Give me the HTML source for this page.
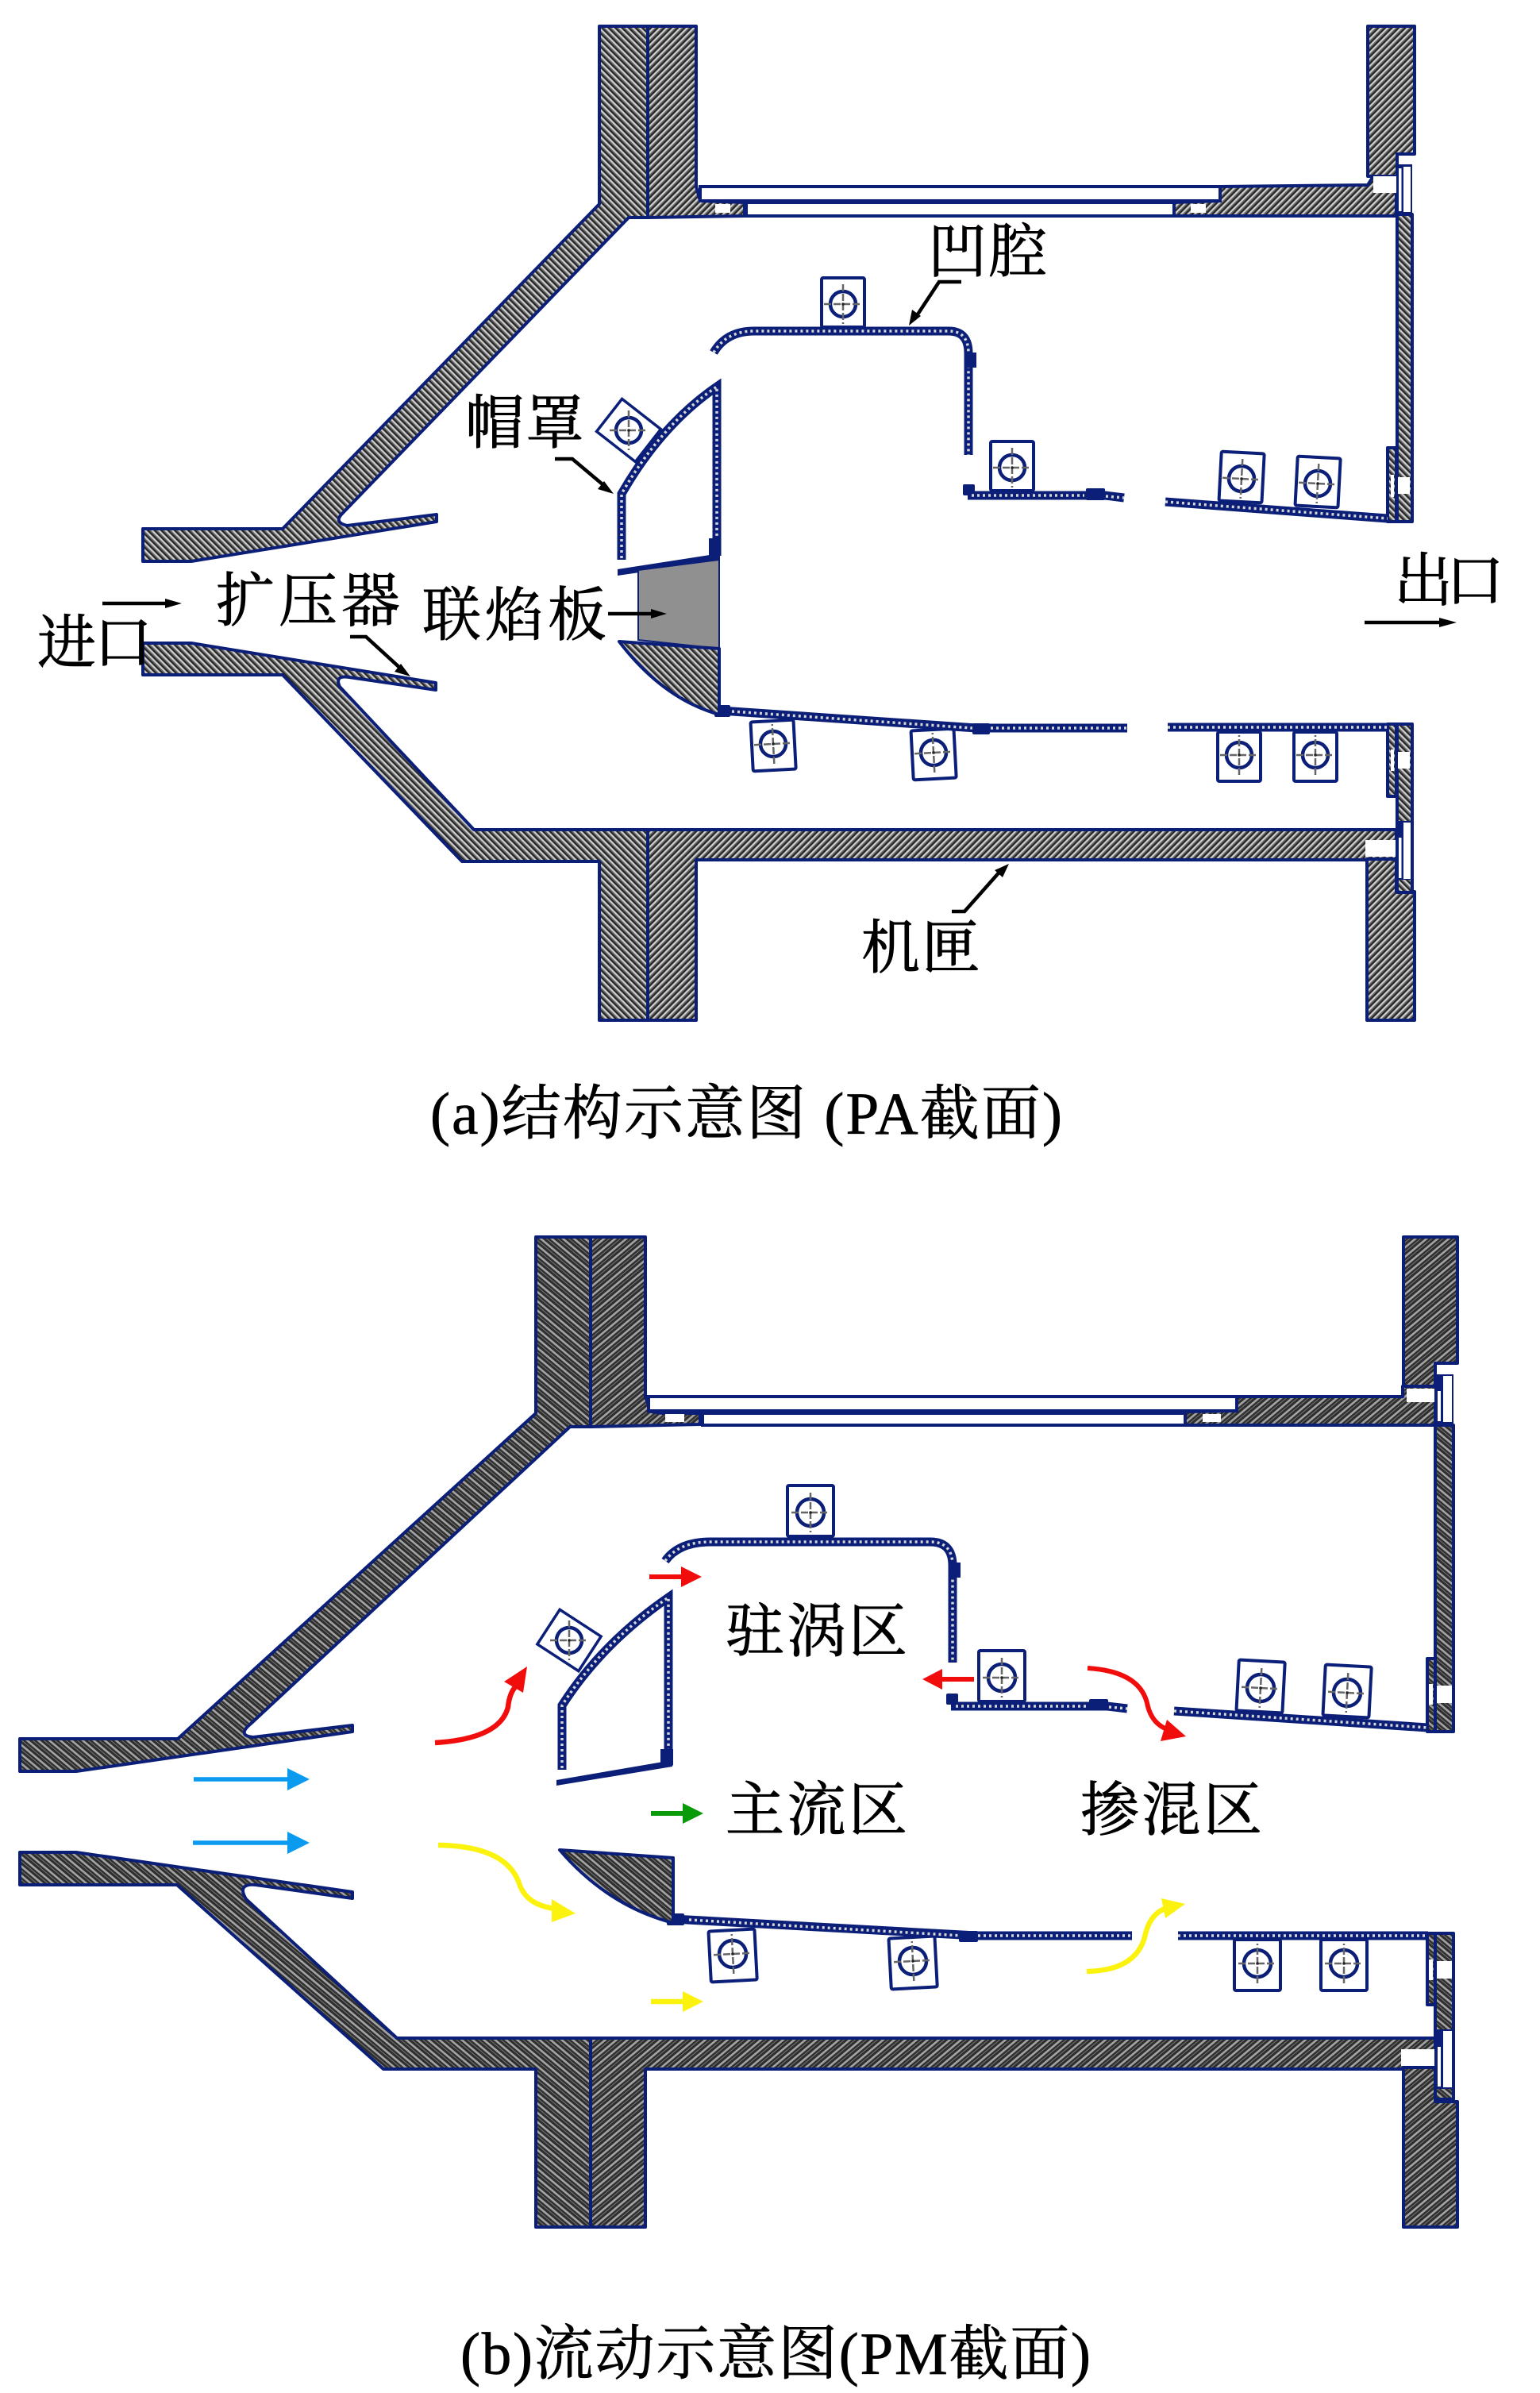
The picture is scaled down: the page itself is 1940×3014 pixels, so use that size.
<!DOCTYPE html>
<html><head><meta charset="utf-8">
<style>
html,body{margin:0;padding:0;background:#fff}
svg{display:block}
.l{fill:#000;stroke:#000;stroke-width:.9;font-family:"Noto Serif CJK SC","Liberation Serif",serif;font-size:74px}
.c{fill:#000;stroke:#000;stroke-width:.7;font-family:"Liberation Serif","Noto Serif CJK SC",serif;font-size:75px}
.s{stroke:#0b1f78;stroke-width:4;stroke-linejoin:round}
.wb{fill:#fff;stroke:#0b1f78;stroke-width:4}
.nv{fill:#0b1f78}
.wt{fill:#fff}
.li{fill:none;stroke:#0b1f78;stroke-width:11}
.ld{fill:none;stroke:#d5d5d5;stroke-width:3.5;stroke-dasharray:3 4}
.ar{fill:none;stroke:#000;stroke-width:4.5}
</style></head><body>
<svg width="1940" height="3014" viewBox="0 0 1940 3014" xmlns="http://www.w3.org/2000/svg">
<defs>
<pattern id="h1" width="6" height="6" patternUnits="userSpaceOnUse" patternTransform="rotate(45)"><rect width="6" height="6" fill="#666"/><rect width="6" height="2" fill="#d0d0d0"/><rect y="3.8" width="6" height="1.6" fill="#1c1c1c"/></pattern>
<pattern id="h2" width="6" height="6" patternUnits="userSpaceOnUse" patternTransform="rotate(-45)"><rect width="6" height="6" fill="#666"/><rect width="6" height="2" fill="#d0d0d0"/><rect y="3.8" width="6" height="1.6" fill="#1c1c1c"/></pattern>
<pattern id="d1" width="9" height="9" patternUnits="userSpaceOnUse" patternTransform="rotate(40)"><rect width="9" height="9" fill="#2e2e2e"/><rect width="9" height="2.6" fill="#a4a4a4"/><rect y="5" width="9" height="1" fill="#777"/></pattern>
<pattern id="d2" width="9" height="9" patternUnits="userSpaceOnUse" patternTransform="rotate(-40)"><rect width="9" height="9" fill="#2e2e2e"/><rect width="9" height="2.6" fill="#a4a4a4"/><rect y="5" width="9" height="1" fill="#777"/></pattern>
<g id="x">
<path d="M-24,0H24M0,-25V25" stroke="#666" stroke-width="2.5" stroke-dasharray="9 3"/>
<circle r="1.8" fill="#222"/>
</g>
<g id="b">
<rect x="-27" y="-33" width="54" height="62" rx="2" fill="#fff" stroke="#0b1f78" stroke-width="4"/>
<circle r="16" fill="#fff" stroke="#0b1f78" stroke-width="4.5"/>
<use href="#x"/>
</g>
<g id="b3">
<rect x="-29" y="-34" width="58" height="64" rx="2" fill="#fff" stroke="#0b1f78" stroke-width="4"/>
<circle r="17" fill="#fff" stroke="#0b1f78" stroke-width="4.5"/>
<use href="#x"/>
</g>
<g id="b2">
<rect x="-31" y="-26" width="62" height="52" fill="#fff" stroke="#0b1f78" stroke-width="3.5"/>
<circle r="16" fill="#fff" stroke="#0b1f78" stroke-width="4.5"/>
</g>
</defs>

<!-- (a) shell -->
<g class="s">
<path fill="url(#h1)" d="M180,666 L356,666 L755,257 L755,33 L816,33 L816,274 L792,274 L430,648 Q421,658 437,662 L550,648 L550,657 L241,707 L180,707Z"/>
<polygon fill="url(#h2)" points="816,33 877,33 877,235 882,253 938,255 938,272 816,274"/>
<path fill="url(#h1)" d="M180,810 L241,810 L549,860 L549,869 L440,853 Q421,850 428,865 L597,1045 L816,1045 L816,1285 L755,1285 L755,1085 L582,1085 L356,850 L180,850Z"/>
<polygon fill="url(#h2)" points="816,1045 1759,1045 1759,1083 877,1083 877,1285 816,1285"/>
<polygon fill="url(#h2)" points="1479,255 1537,253 1537,235 1723,233 1730,222 1759,222 1759,272 1479,272"/>
<polygon fill="url(#h2)" points="1723,33 1782,33 1782,194 1760,194 1760,222 1723,222"/>
<polygon fill="url(#h2)" points="1722,1082 1759,1082 1759,1123 1782,1123 1782,1285 1722,1285"/>
<rect x="1760" y="270" width="19" height="387" fill="url(#h1)"/>
<rect x="1760" y="912" width="19" height="212" fill="url(#h1)"/>
<rect x="1748" y="564" width="11" height="93" fill="url(#h1)"/>
<rect x="1748" y="912" width="11" height="91" fill="url(#h1)"/>
</g>
<rect class="wb" x="882" y="235" width="655" height="18"/>
<rect class="wb" x="940" y="255" width="539" height="17"/>
<rect x="901" y="257" width="19" height="11" class="wt"/>
<rect x="1500" y="257" width="19" height="11" class="wt"/>
<!-- top right hardware a -->
<rect x="1730" y="222" width="30" height="21" class="wt"/>
<rect x="1759" y="207" width="20" height="62" class="nv"/>
<rect x="1762" y="212" width="3.5" height="54" class="wt"/>
<rect x="1768" y="210" width="9" height="57" class="wt"/>
<!-- bottom right hardware a -->
<rect x="1720" y="1058" width="38" height="21" class="wt"/>
<rect x="1759" y="1034" width="20" height="74" class="nv"/>
<rect x="1762" y="1055" width="3.5" height="51" class="wt"/>
<rect x="1768" y="1036" width="9" height="71" class="wt"/>
<rect x="1752" y="598" width="4" height="28" class="wt"/>
<rect x="1761" y="601" width="15" height="21" class="wt"/>
<rect x="1752" y="944" width="4" height="27" class="wt"/>
<rect x="1761" y="947" width="15" height="21" class="wt"/>

<!-- (a) brackets -->
<use href="#b" x="1062" y="383"/>
<use href="#b2" transform="translate(792,542) rotate(38)"/>
<use href="#x" x="792" y="542"/>
<use href="#b" x="1275" y="589"/>
<use href="#b" transform="translate(1564,603) rotate(3)"/>
<use href="#b" transform="translate(1660,609) rotate(3)"/>
<use href="#b" transform="translate(974,937) rotate(-3) scale(1,-1)"/>
<use href="#b" transform="translate(1176,948) rotate(-3) scale(1,-1)"/>
<use href="#b" transform="translate(1561,951) scale(1,-1)"/>
<use href="#b" transform="translate(1657,951) scale(1,-1)"/>

<!-- (a) liner -->
<path class="li" d="M899,444 Q915,417 950,417 H1195 Q1220,417 1220,445 V573"/>
<path class="ld" d="M899,444 Q915,417 950,417 H1195 Q1220,417 1220,445 V573"/>
<rect x="1217" y="444" width="13" height="19" class="nv"/>
<rect x="1213" y="610" width="15" height="14" rx="2" class="nv"/>
<path class="li" d="M1219,624 H1392 L1416,627"/>
<path class="ld" d="M1224,624 H1366"/><path class="ld" d="M1393,625 L1416,627"/>
<rect x="1368" y="615" width="24" height="15" rx="2" class="nv"/>
<path class="li" d="M1468,632 L1748,653"/><path class="ld" d="M1468,632 L1748,653"/>
<path class="li" d="M908,895 L1230,917 H1420"/><path class="ld" d="M922,896 L1225,917"/><path class="ld" d="M1248,917 H1420"/>
<rect x="1225" y="911" width="22" height="14" rx="2" class="nv"/>
<rect x="900" y="888" width="20" height="15" rx="2" class="nv"/>
<path class="li" d="M1471,916 H1748"/><path class="ld" d="M1471,916 H1748"/>
<path class="li" d="M783,705 L783,622 Q833,535 903,487 V700"/>
<path class="ld" d="M783,703 L783,622 Q833,535 903,487 V680"/>
<polygon points="778,717 907,697 907,706 778,725" class="nv"/>
<rect x="893" y="678" width="15" height="22" class="nv"/>
<polygon points="804,718 906,705 906,817 804,806" fill="#909090" stroke="#0b1f78" stroke-width="2"/>
<path d="M780,808 L906,817 V900 Q835,880 780,808Z" fill="url(#h1)" class="s"/>

<!-- (a) labels -->
<text class="l" x="1169" y="342" textLength="150" lengthAdjust="spacing">凹腔</text>
<text class="l" x="586" y="558" textLength="150" lengthAdjust="spacing">帽罩</text>
<text class="l" x="272" y="782" textLength="232" lengthAdjust="spacing">扩压器</text>
<text class="l" x="532" y="800" textLength="232" lengthAdjust="spacing">联焰板</text>
<text class="l" x="47" y="835" textLength="145" lengthAdjust="spacing">进口</text>
<text class="l" x="1756" y="757" textLength="139" lengthAdjust="spacing">出口</text>
<text class="l" x="1085" y="1219" textLength="150" lengthAdjust="spacing">机匣</text>
<text class="c" x="542" y="1428" textLength="796" lengthAdjust="spacing">(a)结构示意图 (PA截面)</text>

<!-- (a) arrows -->
<path class="ar" d="M129,760H215"/><polygon points="229,760 208,754 208,766"/>
<path class="ar" d="M699,578H721L765,615"/><polygon points="773,622 753,616 761,606"/>
<path class="ar" d="M441,802H461L508,845"/><polygon points="517,852 497,846 505,836"/>
<path class="ar" d="M766,773H828"/><polygon points="840,773 820,767 820,779"/>
<path class="ar" d="M1719,784H1822"/><polygon points="1835,784 1813,778 1813,790"/>
<path class="ar" d="M1211,355H1183L1152,402"/><polygon points="1145,410 1149,390 1160,398"/>
<path class="ar" d="M1199,1148H1215L1262,1095"/><polygon points="1271,1088 1253,1096 1263,1105"/>

<!-- (b) shell -->
<g class="s">
<path fill="url(#d1)" d="M25,2190 L224,2190 L675,1780 L675,1558 L744,1558 L744,1797 L718,1797 L316,2171 Q298,2186 319,2188 L444,2173 L444,2181 L96,2231 L25,2231Z"/>
<polygon fill="url(#d2)" points="744,1558 813,1558 813,1759 820,1778 835,1780 882,1780 882,1794 744,1797"/>
<path fill="url(#d1)" d="M25,2333 L96,2333 L444,2383 L444,2391 L322,2374 Q298,2372 310,2392 L500,2567 L744,2567 L744,2805 L675,2805 L675,2606 L483,2606 L223,2374 L25,2374Z"/>
<polygon fill="url(#d2)" points="744,2567 1808,2567 1808,2606 813,2606 813,2805 744,2805"/>
<polygon fill="url(#d2)" points="1493,1778 1558,1777 1558,1759 1767,1759 1767,1746 1808,1746 1808,1795 1493,1795"/>
<polygon fill="url(#d2)" points="1768,1558 1836,1558 1836,1717 1808,1717 1808,1746 1768,1746"/>
<polygon fill="url(#d2)" points="1768,2604 1808,2604 1808,2647 1836,2647 1836,2805 1768,2805"/>
<rect x="1808" y="1795" width="23" height="386" fill="url(#d1)"/>
<rect x="1808" y="2435" width="23" height="209" fill="url(#d1)"/>
<rect x="1798" y="2089" width="10" height="92" fill="url(#d1)"/>
<rect x="1798" y="2435" width="10" height="90" fill="url(#d1)"/>
</g>
<rect class="wb" x="817" y="1759" width="741" height="18"/>
<rect class="wb" x="885" y="1780" width="608" height="15"/>
<rect x="838" y="1781" width="24" height="10" class="wt"/>
<rect x="1515" y="1781" width="23" height="10" class="wt"/>
<rect x="1772" y="1749" width="35" height="17" class="wt"/>
<rect x="1808" y="1731" width="23" height="62" class="nv"/>
<rect x="1811" y="1752" width="4" height="38" class="wt"/>
<rect x="1818" y="1733" width="11" height="58" class="wt"/>
<rect x="1765" y="2581" width="42" height="21" class="wt"/>
<rect x="1808" y="2556" width="23" height="75" class="nv"/>
<rect x="1811" y="2578" width="4" height="50" class="wt"/>
<rect x="1818" y="2558" width="11" height="71" class="wt"/>
<rect x="1800" y="2121" width="5" height="26" class="wt"/>
<rect x="1810" y="2123" width="19" height="22" class="wt"/>
<rect x="1800" y="2468" width="5" height="26" class="wt"/>
<rect x="1810" y="2470" width="19" height="22" class="wt"/>

<!-- (b) brackets -->
<use href="#b3" x="1021" y="1905"/>
<use href="#b2" transform="translate(717,2066) rotate(33)"/>
<use href="#x" x="717" y="2066"/>
<use href="#b3" x="1262" y="2113"/>
<use href="#b3" transform="translate(1588,2126) rotate(3)"/>
<use href="#b3" transform="translate(1697,2132) rotate(3)"/>
<use href="#b3" transform="translate(923,2461) rotate(-3) scale(1,-1)"/>
<use href="#b3" transform="translate(1150,2470) rotate(-3) scale(1,-1)"/>
<use href="#b3" transform="translate(1584,2473) scale(1,-1)"/>
<use href="#b3" transform="translate(1693,2473) scale(1,-1)"/>

<!-- (b) liner -->
<path class="li" d="M838,1966 Q855,1942 895,1942 H1172 Q1200,1942 1200,1972 V2094"/>
<path class="ld" d="M838,1966 Q855,1942 895,1942 H1172 Q1200,1942 1200,1972 V2094"/>
<rect x="1196" y="1968" width="14" height="19" class="nv"/>
<rect x="1192" y="2133" width="15" height="14" rx="2" class="nv"/>
<path class="li" d="M1198,2149 H1395 L1420,2152"/><path class="ld" d="M1204,2149 H1372"/><path class="ld" d="M1397,2150 L1420,2152"/>
<rect x="1372" y="2140" width="24" height="14" rx="2" class="nv"/>
<path class="li" d="M1479,2155 L1799,2176"/><path class="ld" d="M1479,2155 L1799,2176"/>
<path class="li" d="M848,2417 L1230,2438 H1426"/><path class="ld" d="M868,2418 L1212,2438"/><path class="ld" d="M1232,2438 H1426"/>
<rect x="1208" y="2432" width="24" height="14" rx="2" class="nv"/>
<rect x="840" y="2410" width="22" height="15" rx="2" class="nv"/>
<path class="li" d="M1484,2438 H1799"/><path class="ld" d="M1484,2438 H1799"/>
<path class="li" d="M708,2229 L708,2148 Q758,2070 842,2012 V2224"/>
<path class="ld" d="M708,2227 L708,2148 Q758,2070 842,2012 V2205"/>
<polygon points="701,2242 847,2217 847,2225 701,2249" class="nv"/>
<rect x="832" y="2203" width="16" height="20" class="nv"/>
<path d="M705,2330 L848,2340 V2422 Q765,2400 705,2330Z" fill="url(#d1)" class="s"/>

<!-- (b) flow arrows -->
<path d="M244,2241H366M243,2321H366" stroke="#0a9bf0" stroke-width="5.5" fill="none"/>
<polygon points="390,2241 362,2227 362,2255" fill="#0a9bf0"/>
<polygon points="390,2321 362,2307 362,2335" fill="#0a9bf0"/>
<path d="M548,2195 Q630,2190 640,2150 Q642,2130 652,2122" stroke="#f20d0d" stroke-width="6.5" fill="none"/>
<polygon points="664,2099 635,2118 659,2132" fill="#f20d0d"/>
<path d="M818,1986H860M1227,2115H1180M1370,2101 Q1435,2105 1445,2145 Q1450,2170 1470,2178" stroke="#f20d0d" stroke-width="6" fill="none"/>
<polygon points="884,1986 858,1973 858,1999" fill="#f20d0d"/>
<polygon points="1162,2115 1187,2102 1187,2128" fill="#f20d0d"/>
<polygon points="1494,2187 1462,2193 1470,2166" fill="#f20d0d"/>
<path d="M820,2284H862" stroke="#0a9a0a" stroke-width="6"/>
<polygon points="886,2284 860,2271 860,2297" fill="#0a9a0a"/>
<path d="M552,2324 Q640,2325 655,2375 Q665,2400 700,2404M820,2521H862M1369,2483 Q1430,2482 1442,2440 Q1448,2410 1470,2403" stroke="#fbf20d" stroke-width="6.5" fill="none"/>
<polygon points="725,2410 695,2392 695,2421" fill="#fbf20d"/>
<polygon points="886,2521 860,2508 860,2534" fill="#fbf20d"/>
<polygon points="1493,2398 1463,2391 1468,2416" fill="#fbf20d"/>

<!-- (b) labels -->
<text class="l" x="914" y="2080" textLength="229" lengthAdjust="spacing">驻涡区</text>
<text class="l" x="914" y="2305" textLength="229" lengthAdjust="spacing">主流区</text>
<text class="l" x="1361" y="2305" textLength="229" lengthAdjust="spacing">掺混区</text>
<text class="c" x="580" y="2990" textLength="794" lengthAdjust="spacing">(b)流动示意图(PM截面)</text>
</svg>
</body></html>
